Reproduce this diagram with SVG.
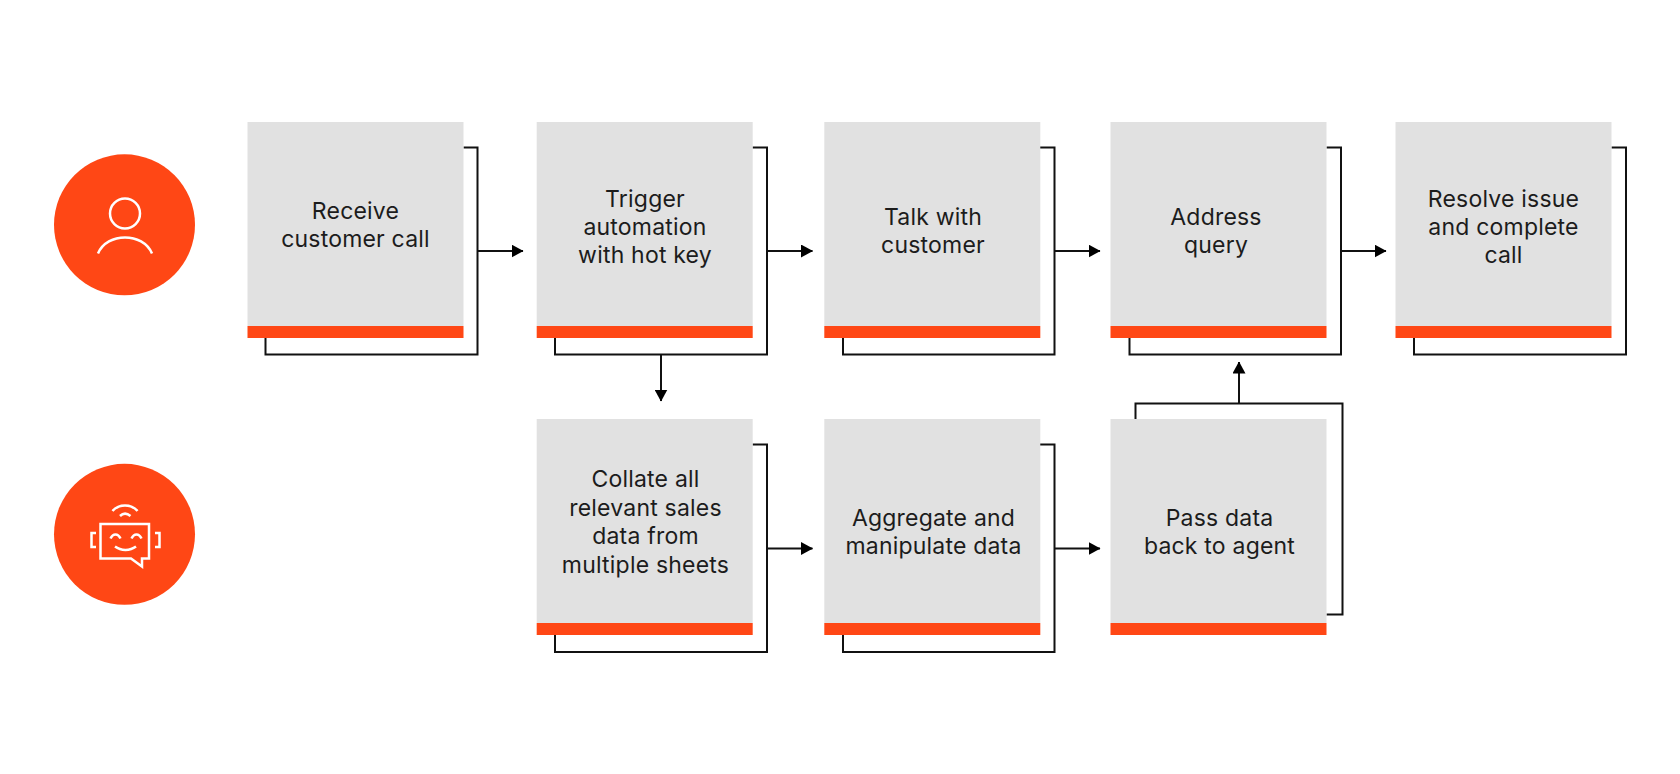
<svg xmlns="http://www.w3.org/2000/svg" width="1680" height="774" viewBox="0 0 1680 774">
  <style>
    .box { fill: #e1e1e1; }
    .bar { fill: #ff4715; }
    .disc { fill: #ff4715; }
    .line { fill: none; stroke: #111; stroke-width: 2; }
    .icon { fill: none; stroke: #fff; stroke-width: 2.500; }
    text { font-family: Inter, "Liberation Sans", sans-serif; font-size: 23px; letter-spacing: 0.2px; fill: #1c1c1c; text-anchor: middle; }
  </style>
  <defs>
    <marker id="tip" markerUnits="userSpaceOnUse" markerWidth="12" markerHeight="13" refX="11.5" refY="6.5" orient="auto">
      <path d="M0 0L12 6.500L0 13Z" fill="#000"/>
    </marker>
    <g id="card">
      <rect class="box" width="216" height="204"/>
      <rect class="bar" y="204" width="216" height="12"/>
    </g>
  </defs>
  <rect width="1680" height="774" fill="#fff"/>

  <g id="lane-agent">
    <circle class="disc" cx="124.500" cy="224.800" r="70.500"/>
    <circle class="icon" cx="125" cy="213.500" r="15"/>
    <path class="icon" d="M98 253.500C107 232 143 232 152 253.500"/>
  </g>
  <g id="lane-bot">
    <circle class="disc" cx="124.500" cy="534.300" r="70.500"/>
    <path class="icon" d="M125 524H100.500V558.500H131L142 566.500V558.500H149V524Z"/>
    <path class="icon" d="M96 533H91.500V547H96M155 533H159.500V547H155"/>
    <path class="icon" d="M112.500 511C119 503.500 131 503.500 137.500 511M120 516C123 513 127 513 130.500 516"/>
    <path class="icon" d="M110.500 538.500C113 533 118 533 120.500 538.500M131.500 538.500C134 533 139 533 141.500 538.500M115 546.500C121 551 130 551 136 546.500"/>
  </g>

  <g id="connectors">
    <path class="line" d="M463.500 147.500H477.500V354.500H265.500V338"/>
    <path class="line" marker-end="url(#tip)" d="M477.500 251H523"/>
    <path class="line" d="M752.500 147.500H767V354.500H555V338"/>
    <path class="line" marker-end="url(#tip)" d="M767 251H812.500"/>
    <path class="line" marker-end="url(#tip)" d="M661 354.500V401"/>
    <path class="line" d="M1040 147.500H1054.500V354.500H843V338"/>
    <path class="line" marker-end="url(#tip)" d="M1054.500 251H1100"/>
    <path class="line" d="M1326.500 147.500H1341V354.500H1129.500V338"/>
    <path class="line" marker-end="url(#tip)" d="M1341 251H1386"/>
    <path class="line" d="M1611.500 147.500H1626V354.500H1414V338"/>
    <path class="line" d="M752.500 444.500H767V652H555V635"/>
    <path class="line" marker-end="url(#tip)" d="M767 548.500H812.500"/>
    <path class="line" d="M1040 444.500H1054.500V652H843V635"/>
    <path class="line" marker-end="url(#tip)" d="M1054.500 548.500H1100"/>
    <path class="line" d="M1326.500 614.500H1342.500V403.500H1135.500V419"/>
    <path class="line" marker-end="url(#tip)" d="M1239 403.500V362"/>
  </g>

  <g id="receive-call">
    <use href="#card" x="247.500" y="122"/>
    <text x="355.500" y="219">Receive</text>
    <text x="355.500" y="247">customer call</text>
  </g>
  <g id="trigger-automation">
    <use href="#card" x="536.700" y="122"/>
    <text x="645" y="207">Trigger</text>
    <text x="645" y="235">automation</text>
    <text x="645" y="263">with hot key</text>
  </g>
  <g id="talk-customer">
    <use href="#card" x="824.300" y="122"/>
    <text x="933" y="225">Talk with</text>
    <text x="933" y="253">customer</text>
  </g>
  <g id="address-query">
    <use href="#card" x="1110.500" y="122"/>
    <text x="1216" y="225">Address</text>
    <text x="1216" y="253">query</text>
  </g>
  <g id="resolve-issue">
    <use href="#card" x="1395.500" y="122"/>
    <text x="1503.500" y="207">Resolve issue</text>
    <text x="1503.500" y="235">and complete</text>
    <text x="1503.500" y="263">call</text>
  </g>
  <g id="collate-data">
    <use href="#card" x="536.700" y="419"/>
    <text x="645.500" y="487">Collate all</text>
    <text x="645.500" y="515.500">relevant sales</text>
    <text x="645.500" y="544">data from</text>
    <text x="645.500" y="572.500">multiple sheets</text>
  </g>
  <g id="aggregate-data">
    <use href="#card" x="824.300" y="419"/>
    <text x="933.500" y="526">Aggregate and</text>
    <text x="933.500" y="554">manipulate data</text>
  </g>
  <g id="pass-data">
    <use href="#card" x="1110.500" y="419"/>
    <text x="1219.500" y="526">Pass data</text>
    <text x="1219.500" y="554">back to agent</text>
  </g>
</svg>
